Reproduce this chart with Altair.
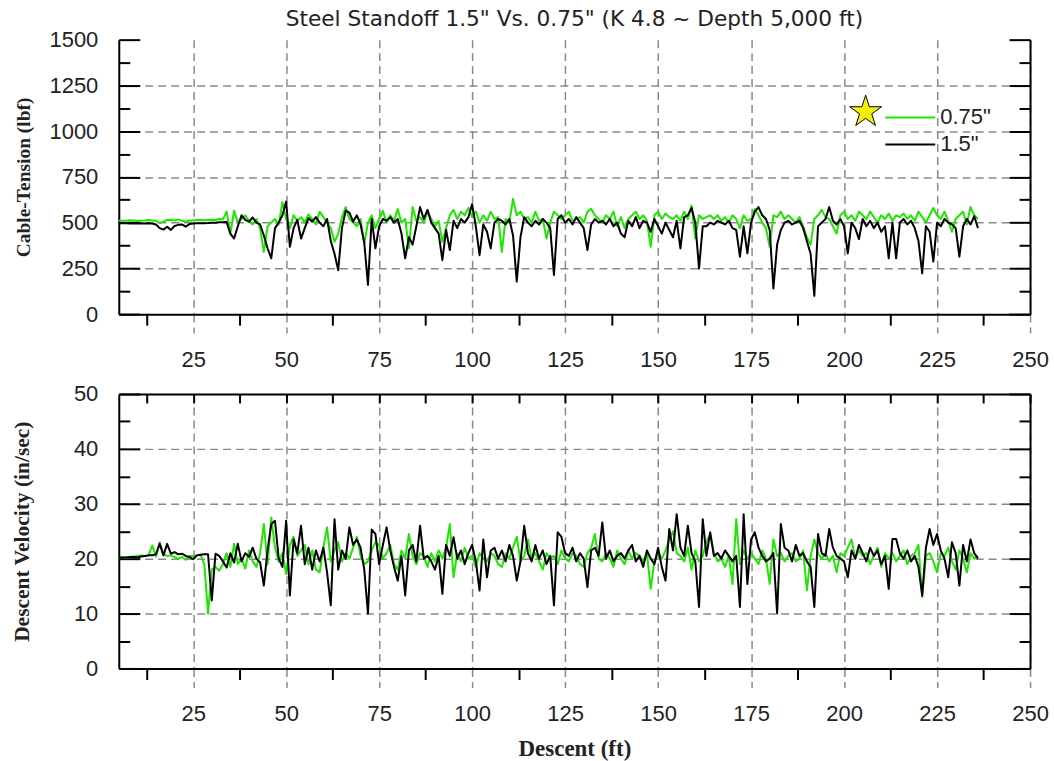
import altair as alt
import pandas as pd

# Descent positions (ft) shared by every series, one sample per foot
DESCENT_FT = list(range(5, 237))

# Cable tension (lbf), 0.75" standoff
TENSION_075 = [
    512, 510, 511, 513, 512, 510, 511, 512, 514, 512,
    510, 498, 505, 515, 516, 512, 518, 510, 505, 512,
    512, 515, 514, 513, 515, 516, 514, 520, 518, 560,
    440, 565, 500, 520, 540, 510, 490, 520, 470, 340,
    480, 500, 520, 490, 612, 520, 470, 540, 510, 530,
    500, 545, 520, 490, 560, 530, 500, 470, 395, 440,
    530, 585, 520, 500, 480, 520, 385, 500, 540, 470,
    520, 565, 500, 540, 510, 575, 500, 520, 360, 585,
    510, 530, 500, 560, 520, 480, 510, 395, 470, 540,
    570, 520, 560, 540, 580, 530, 560, 500, 540, 510,
    560, 520, 530, 340, 520, 500, 630, 540, 560, 520,
    530, 500, 560, 510, 520, 413, 500, 560, 540, 520,
    540, 560, 510, 520, 530, 500, 560, 575, 540, 520,
    500, 540, 520, 560, 480, 530, 470, 520, 540, 560,
    520, 540, 510, 368, 540, 560, 520, 550, 530, 520,
    540, 510, 560, 520, 594, 413, 540, 520, 530, 540,
    520, 540, 510, 530, 500, 540, 520, 470, 540, 510,
    520, 575, 540, 500, 470, 368, 540, 530, 560, 520,
    540, 520, 500, 530, 480, 420, 380, 520, 540, 570,
    530, 520, 480, 440, 540, 560, 520, 540, 510, 560,
    540, 520, 560, 530, 500, 540, 520, 550, 510, 540,
    530, 550, 520, 540, 510, 560, 530, 500, 540, 580,
    540, 520, 560, 510, 450, 520, 540, 560, 490, 585,
    540, 520,
]

# Cable tension (lbf), 1.5" standoff
TENSION_15 = [
    497, 496, 496, 495, 495, 495, 496, 495, 496, 495,
    490, 470, 462, 478, 460, 482, 488, 490, 478, 492,
    495, 496, 497, 497, 498, 500, 500, 502, 502, 503,
    440, 413, 480, 540, 515, 505, 528, 500, 490, 430,
    360, 305, 470, 500, 540, 615, 368, 470, 515, 413,
    470, 525, 505, 530, 500, 480, 520, 400, 330, 240,
    470, 565, 555, 505, 540, 490, 390, 160, 520, 360,
    480, 520, 510, 530, 500, 520, 440, 305, 420, 380,
    480, 585, 520, 570, 500, 470, 440, 295, 460, 350,
    510, 470, 520, 500, 530, 600, 480, 322, 490, 450,
    359, 500, 520, 510, 490, 520, 430, 178, 420, 530,
    500, 480, 510, 490, 520, 500, 470, 214, 520, 540,
    500, 520, 490, 530, 500, 470, 350, 490, 520, 500,
    510, 490, 520, 480, 500, 440, 420, 510, 480, 530,
    470, 510, 500, 450, 520, 480, 440, 500, 460, 420,
    510, 359, 530, 540, 580, 500, 250, 480, 480, 500,
    490, 510, 500, 490, 510, 470, 460, 314, 480, 332,
    500, 560, 585, 540, 520, 460, 140, 380, 460, 500,
    510, 490, 500, 510, 470, 400, 330, 100, 480, 500,
    520, 585, 510, 490, 520, 480, 332, 500, 470, 410,
    520, 480, 510, 470, 500, 450, 480, 305, 500, 305,
    500, 520, 490, 510, 470, 400, 223, 480, 450, 287,
    500, 480, 520, 500, 490, 470, 314, 480, 520, 490,
    535, 470,
]

# Descent velocity (in/sec), 0.75" standoff
VELOCITY_075 = [
    20.2, 20.2, 20.2, 20.3, 20.4, 20.5, 20.6, 20.5, 20.6, 22.4,
    20.4, 23.0, 20.8, 20.5, 20.6, 20.3, 20.0, 20.3, 19.8, 20.5,
    20.5, 20.6, 20.7, 19.0, 10.0, 18.0, 18.5, 17.8, 19.0, 21.0,
    18.5, 22.7, 19.0, 20.0, 18.2, 21.5, 19.5, 18.5, 21.0, 26.3,
    19.0, 27.5, 22.0, 19.5, 21.0, 17.2, 22.5, 24.0, 20.5, 21.5,
    22.5, 19.0, 21.5, 18.0, 17.5, 22.0, 25.7, 19.5, 21.5, 23.0,
    19.5, 21.0, 20.0, 22.0, 24.0, 20.5, 19.0, 19.5, 21.5, 23.0,
    22.5, 20.0, 21.0, 22.5, 19.0, 18.0, 21.5, 20.0, 24.5, 20.5,
    19.0, 21.0, 20.5, 18.5, 21.0, 19.5, 21.5, 20.0, 22.0, 26.3,
    16.6, 21.0, 19.5, 22.0, 20.0, 20.5, 18.5, 21.0, 20.0, 19.5,
    21.0, 20.5, 19.0, 18.5, 21.0, 20.0, 22.0, 24.0, 19.5, 20.5,
    23.5, 20.0, 21.0, 19.5, 18.0, 21.0, 20.0, 20.5, 19.0, 21.5,
    20.0, 19.5, 21.0, 20.5, 19.0, 18.5, 21.0, 22.0, 24.5, 20.0,
    19.5, 21.0, 20.0, 18.5, 21.5, 20.0, 19.0, 21.5, 20.0, 21.0,
    20.5, 19.5, 21.0, 14.5, 19.5, 21.0, 20.0, 21.5, 23.5, 25.0,
    21.0, 20.5, 19.5, 22.0, 18.0, 21.5, 19.5, 20.5, 23.0, 24.5,
    21.0, 19.5, 20.0, 18.5, 20.5, 15.4, 27.2, 19.0, 21.5, 20.0,
    21.0, 20.0, 19.0, 21.5, 20.0, 15.4, 23.5, 20.5, 21.0, 19.5,
    20.5, 21.0, 19.5, 20.0, 21.5, 14.2, 20.5, 23.5, 21.0, 20.0,
    21.0, 19.5, 20.5, 17.5, 21.0, 20.5, 22.0, 23.5, 20.0, 21.5,
    20.5, 21.0, 19.0, 20.5, 22.0, 18.5, 21.0, 20.0, 21.0, 19.5,
    20.5, 21.5, 19.0, 20.5, 21.0, 22.5, 13.0, 20.5, 21.0, 19.5,
    17.5, 21.0, 20.5, 22.0, 19.5, 18.0, 21.5, 20.0, 17.5, 21.0,
    20.0, 20.5,
]

# Descent velocity (in/sec), 1.5" standoff
VELOCITY_15 = [
    20.2, 20.2, 20.2, 20.3, 20.3, 20.2, 20.4, 20.5, 20.6, 20.6,
    20.8, 22.7, 20.6, 22.7, 20.9, 21.2, 20.8, 20.9, 20.5, 20.3,
    19.9, 20.6, 20.7, 20.8, 20.8, 12.4, 20.9, 20.5, 19.5, 18.4,
    21.0, 19.3, 22.7, 19.5, 21.0, 20.3, 22.0, 20.0, 19.3, 15.1,
    21.5, 26.3, 26.9, 20.0, 18.5, 26.9, 13.3, 23.5, 21.0, 26.0,
    19.0, 22.0, 18.0, 21.5, 19.5, 22.0, 17.5, 11.5, 27.2, 18.0,
    21.5, 20.0, 25.7, 22.5, 23.5, 22.0, 18.0, 10.0, 25.3, 24.5,
    19.0, 22.5, 25.7, 21.5, 18.5, 16.0, 20.5, 13.3, 21.5, 22.5,
    19.5, 26.0, 20.0, 20.5, 19.5, 18.0, 20.5, 13.6, 22.5, 20.5,
    23.9, 20.0, 21.5, 19.0, 21.0, 22.5, 19.5, 14.2, 23.5, 16.6,
    21.5, 22.0, 20.0, 21.5, 19.5, 22.5, 20.5, 16.0, 19.5, 26.0,
    21.0, 19.5, 22.5, 20.0, 21.5, 19.0, 20.5, 11.5, 24.8, 24.0,
    21.0, 20.5, 22.0, 19.5, 21.0, 20.0, 14.8, 21.5, 22.0, 20.5,
    26.6, 20.0, 21.5, 19.5, 20.5, 21.0, 20.0, 21.5, 22.5, 19.5,
    20.5, 18.5, 21.5, 20.0, 19.0, 22.0, 18.5, 16.0, 25.4, 21.5,
    28.1, 22.0, 20.5, 26.0, 21.0, 19.5, 11.2, 27.2, 20.5, 24.8,
    20.5, 21.0, 20.0, 21.5, 20.5, 19.5, 20.5, 11.2, 28.1, 15.4,
    23.5, 24.8, 22.0, 20.5, 19.5, 20.0, 21.0, 10.0, 26.3, 22.0,
    21.5, 19.5, 22.5, 20.5, 21.0, 19.5, 18.5, 11.2, 24.5, 21.0,
    20.5, 25.4, 22.0, 20.5, 20.0, 19.5, 16.6, 21.5, 20.0, 22.5,
    21.0, 19.5, 22.0, 20.5, 21.5, 19.0, 20.5, 14.5, 23.6, 23.6,
    21.0, 20.0, 21.5, 19.5, 20.5, 18.5, 13.3, 22.0, 25.4, 22.5,
    24.5, 21.5, 20.0, 16.6, 23.0, 21.0, 15.1, 22.5, 19.5, 23.5,
    21.0, 20.0,
]

SERIES = ['0.75"', '1.5"']
SERIES_COLORS = ["#1ee600", "#000000"]

TITLE = 'Steel Standoff 1.5" Vs. 0.75" (K 4.8 ~ Depth 5,000 ft)'
X_TITLE = "Descent (ft)"
TENSION_TITLE = "Cable-Tension (lbf)"
VELOCITY_TITLE = "Descent Velocity (in/sec)"

# Star marker placed beside the legend (descent ft, tension lbf)
STAR_DESCENT = [205.8]
STAR_TENSION = [1105]

X_MAJOR = [25 * i for i in range(1, 11)]
X_MINOR = [12.5 + 25 * i for i in range(10)]
X_ALL = sorted(X_MAJOR + X_MINOR)
TENSION_TICKS = [125 * i for i in range(13)]
VELOCITY_TICKS = [5 * i for i in range(11)]

W, H = 913, 275
SANS = "Liberation Sans"
TITLE_FONT = "DejaVu Sans"
SERIF = "Liberation Serif"
INK = "#222222"
GRID = "#8a8a8a"
DASH = [8, 5]
STAR_PATH = ("M0,-1L0.2245,-0.309L0.9511,-0.309L0.3633,0.118L0.5878,0.809"
             "L0,0.382L-0.5878,0.809L-0.3633,0.118L-0.9511,-0.309L-0.2245,-0.309Z")


def long_frame(first, second):
    return pd.DataFrame({
        "descent": DESCENT_FT * 2,
        "value": first + second,
        "series": [SERIES[0]] * len(first) + [SERIES[1]] * len(second),
    })


color_scale = alt.Scale(domain=SERIES, range=SERIES_COLORS)


def panel(df, y_max, y_step, minor_ticks, y_title, y_title_size, x_title, legend, top_border):
    x_scale = alt.Scale(domain=[5, 250], nice=False, zero=False)
    y_scale = alt.Scale(domain=[0, y_max], nice=False)
    y_major_test = f"datum.value % {y_step} === 0"

    x_main = alt.Axis(
        orient="bottom", values=X_MAJOR, format="d", labelFlush=False,
        labelFont=SANS, labelFontSize=22, labelColor=INK, labelPadding=16,
        domain=True, domainColor="black", domainWidth=2,
        ticks=True, tickSize=19, tickColor=GRID, tickDash=DASH, tickWidth=1.5,
        grid=True, gridColor=GRID, gridDash=DASH, gridWidth=1.5,
        title=x_title, titleFont=SERIF, titleFontWeight="bold", titleFontSize=23,
        titleColor=INK, titlePadding=13,
    )
    y_main = alt.Axis(
        orient="left", values=[v for v in minor_ticks if v % y_step == 0], format="d",
        labelFont=SANS, labelFontSize=22, labelColor=INK, labelPadding=21,
        domain=True, domainColor="black", domainWidth=2,
        ticks=False, tickSize=0,
        grid=True, gridColor=GRID, gridDash=DASH, gridWidth=1.5,
        gridOpacity={"condition": {"test": f"datum.value > 0 && datum.value < {y_max}", "value": 1},
                     "value": 0},
        title=y_title, titleFont=SERIF, titleFontWeight="bold", titleFontSize=y_title_size,
        titleColor=INK, titleX=-85, titleY=H / 2,
    )
    tick_len = {"condition": {"test": y_major_test, "value": 21}, "value": 11}
    # inward ticks along the left edge
    y_left_ticks = alt.Axis(
        orient="right", offset=-W, values=minor_ticks, labels=False, domain=False,
        grid=False, ticks=True, tickSize=tick_len, tickColor="black", tickWidth=2, title=None,
    )
    # right border with inward ticks
    y_right_ticks = alt.Axis(
        orient="left", offset=-W, values=minor_ticks, labels=False, domain=True,
        domainColor="black", domainWidth=2,
        grid=False, ticks=True, tickSize=tick_len, tickColor="black", tickWidth=2, title=None,
    )
    x_minor = alt.Axis(
        orient="bottom", values=X_MINOR, labels=False, domain=False, grid=False,
        ticks=True, tickSize=11, tickColor="black", tickWidth=2, title=None,
    )
    x_top = alt.Axis(
        orient="bottom", offset=-H, values=X_ALL, labels=False, domain=True,
        domainColor="black", domainWidth=2, grid=False,
        ticks=True, tickSize=9, tickColor="black", tickWidth=2, title=None,
    )

    base = alt.Chart(df)
    color = alt.Color("series:N", scale=color_scale, legend=legend)

    green = base.transform_filter(alt.datum.series == SERIES[0]).mark_line(
        strokeWidth=2, strokeJoin="round").encode(
        x=alt.X("descent:Q", scale=x_scale, axis=x_main),
        y=alt.Y("value:Q", scale=y_scale, axis=y_main),
        color=color,
    )
    black = base.transform_filter(alt.datum.series == SERIES[1]).mark_line(
        strokeWidth=2, strokeJoin="round").encode(
        x=alt.X("descent:Q", scale=x_scale, axis=None),
        y=alt.Y("value:Q", scale=y_scale, axis=None),
        color=color,
    )
    guide_a = base.mark_point(opacity=0).encode(
        x=alt.X("descent:Q", scale=x_scale, axis=x_minor),
        y=alt.Y("value:Q", scale=y_scale, axis=y_left_ticks),
    )
    guide_b = base.mark_point(opacity=0).encode(
        x=alt.X("descent:Q", scale=x_scale, axis=x_top if top_border else None),
        y=alt.Y("value:Q", scale=y_scale, axis=y_right_ticks),
    )
    layers = [guide_a, guide_b, green, black]
    if legend is not None:
        star = alt.Chart(pd.DataFrame({"descent": STAR_DESCENT, "value": STAR_TENSION})).mark_point(
            shape=STAR_PATH, size=1130, filled=True, fill="#f5ef0c", stroke="black",
            strokeWidth=1, opacity=1,
        ).encode(
            x=alt.X("descent:Q", scale=x_scale, axis=None),
            y=alt.Y("value:Q", scale=y_scale, axis=None),
        )
        layers.append(star)
    return alt.layer(*layers).resolve_axis(x="independent", y="independent").properties(
        width=W, height=H)


legend = alt.Legend(
    orient="none", legendX=797, legendY=67, title=None, padding=0,
    symbolType="M-4,0H1", symbolSize=400, symbolStrokeWidth=2,
    labelFont=SANS, labelFontSize=22, labelColor=INK, labelOffset=4, rowPadding=5,
)

top = panel(long_frame(TENSION_075, TENSION_15), 1500, 250, TENSION_TICKS,
            TENSION_TITLE, 19.5, None, legend, False).properties(
    title=alt.TitleParams(TITLE, font=TITLE_FONT, fontSize=21.7, fontWeight="normal", color=INK,
                          anchor="middle", frame="group", offset=-2))
bottom = panel(long_frame(VELOCITY_075, VELOCITY_15), 50, 10, VELOCITY_TICKS,
               VELOCITY_TITLE, 21.5, X_TITLE, None, True)

chart = alt.vconcat(top, bottom, spacing=80, bounds="flush").resolve_legend(
    color="independent").properties(
    padding={"left": 11, "top": 8, "right": 5, "bottom": 5},
    background="white",
).configure_view(stroke=None)

chart.save("out.html", embed_options={"renderer": "svg", "actions": False})
